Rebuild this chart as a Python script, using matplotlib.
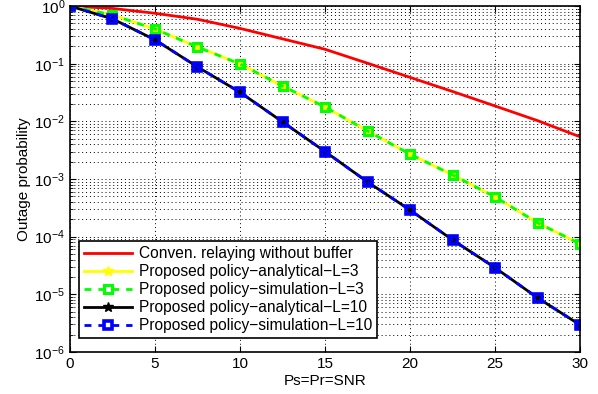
import matplotlib
matplotlib.use('Agg')
import matplotlib.pyplot as plt
from matplotlib.ticker import LogLocator, NullFormatter

plt.rcParams['font.family'] = ['Liberation Sans', 'DejaVu Sans']

snr = [0, 2.5, 5, 7.5, 10, 12.5, 15, 17.5, 20, 22.5, 25, 27.5, 30]

# conventional relaying without buffer
conv = [1.0, 0.91, 0.75, 0.59, 0.41, 0.27, 0.178, 0.102, 0.058, 0.033, 0.0185, 0.0103, 0.0054]

# proposed policy, L=3
ana_L3 = [1.0, 0.70, 0.40, 0.195, 0.099, 0.041, 0.0178, 0.0068, 0.0027, 0.00118, 0.00049, 0.000174, 7.5e-5]
sim_L3 = [1.0, 0.70, 0.40, 0.195, 0.099, 0.041, 0.0178, 0.0068, 0.0027, 0.00118, 0.00049, 0.000174, 7.5e-5]

# proposed policy, L=10
ana_L10 = [1.0, 0.60, 0.26, 0.088, 0.032, 0.0098, 0.0030, 0.00089, 0.00029, 8.8e-5, 2.9e-5, 8.7e-6, 2.95e-6]
sim_L10 = [1.0, 0.60, 0.26, 0.088, 0.032, 0.0098, 0.0030, 0.00089, 0.00029, 8.8e-5, 2.9e-5, 8.7e-6, 2.95e-6]

fig = plt.figure(figsize=(5.98, 3.94), dpi=100)
ax = fig.add_axes([0.117, 0.1066, 0.853, 0.878])

ax.semilogy(snr, conv, '-', color='red', lw=2, label='Conven. relaying without buffer')
ax.semilogy(snr, ana_L3, '-*', color='yellow', lw=2, ms=7, label='Proposed policy\u2212analytical\u2212L=3')
ax.semilogy(snr, sim_L3, '--s', color='#00ff00', lw=2, ms=6, mfc='none', mew=2.2, dashes=(2.5, 2.5),
            label='Proposed policy\u2212simulation\u2212L=3')
ax.semilogy(snr, ana_L10, '-*', color='black', lw=2, ms=7, label='Proposed policy\u2212analytical\u2212L=10')
ax.semilogy(snr, sim_L10, '--s', color='blue', lw=2, ms=6, mfc='none', mew=2.6, dashes=(2.5, 2.5),
            label='Proposed policy\u2212simulation\u2212L=10')

ax.set_xlim(0, 30)
ax.set_ylim(1e-6, 1)
ax.set_xticks([0, 5, 10, 15, 20, 25, 30])
ax.yaxis.set_major_locator(LogLocator(base=10, numticks=10))
ax.yaxis.set_minor_locator(LogLocator(base=10, subs=range(2, 10), numticks=100))
ax.yaxis.set_minor_formatter(NullFormatter())

ax.grid(True, which='major', axis='both', color='black', ls=(0, (1, 3)), lw=0.7)
ax.grid(True, which='minor', axis='y', color='black', ls=(0, (1, 3)), lw=0.7)

ax.tick_params(which='both', direction='in', top=True, right=True, labelsize=11)
ax.tick_params(which='major', length=4)
ax.tick_params(which='minor', length=2)
for s in ax.spines.values():
    s.set_linewidth(1.2)

ax.set_xlabel('Ps=Pr=SNR', fontsize=11, labelpad=2)
ax.set_ylabel('Outage probability', fontsize=11, labelpad=2)

leg = ax.legend(loc='lower left', bbox_to_anchor=(0.018, 0.04), borderaxespad=0, fontsize=11.2,
                fancybox=False, framealpha=1, edgecolor='black', handlelength=3.1, borderpad=0.3,
                labelspacing=0.2, handletextpad=0.45)
leg.get_frame().set_linewidth(1.2)

fig.savefig('out.png', dpi=100)
